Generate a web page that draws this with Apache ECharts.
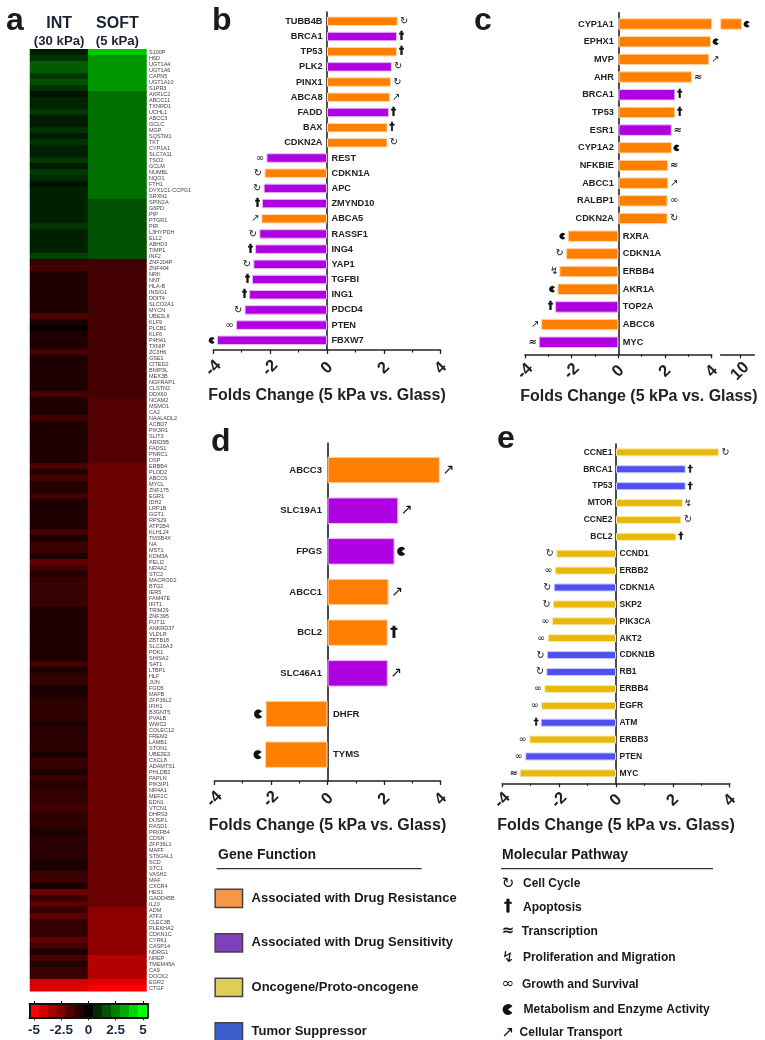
<!DOCTYPE html>
<html><head><meta charset="utf-8"><style>html,body{margin:0;padding:0;background:#fff}#c{width:765px;height:1040px}</style>
<script src="https://cdn.jsdelivr.net/npm/echarts@6/dist/echarts.min.js"></script></head><body><div id="c"></div>
<script>
const heatGenes=["S100P","H6D","UGT1A4","UGT1A6","CAPN5","UGT1A10","S1PR3","AKR1C2","ABCC11","TXNRD1",
"UCHL1","ABCC3","GCLC","MGP","SQSTM1","TKT","CYP1A1","SLC7A11","TSO2","GCLM",
"NUMBL","NQO1","FTH1","DYX1C1-CCPG1","SRXN1","SPIN2A","G6PD","PIP","PTGR1","PIR",
"L3HYPDH","ELL2","ABHD3","TIMP1","INF2","ZNF204P","ZNF404","NRK","NNT","HLA-B",
"INSIG1","DDIT4","SLCO2A1","MYCN","UBE2L6","KLF9","PLCB1","KLF6","P4HA1","TXNIP",
"ZC3H6","GSE1","CITED2","BNIP3L","MEX3B","NGFRAP1","CLSTN2","DDX60","NCAM2","MSMO1",
"CA2","NAALADL2","ACBD7","PIK3R1","SLIT3","ARID5B","FADS1","PNRC1","DSP","ERBB4",
"PLOD2","ABCC6","MYCL","ZNF175","EGR1","IDH2","LRP1B","GGT1","RPS29","ATP2B4",
"KLHL24","TMSB4X","NA","MST1","KDM3A","PELI2","NR4A2","STC2","MACROD2","BTG2",
"IER5","FAM47E","IFIT1","TRIM29","ZNF395","FUT11","ANKRD37","VLDLR","ZBTB18","SLC16A3",
"PDK1","SHISA2","SAT1","LTBP1","HLF","JUN","FGD5","MAFB","ZFP36L2","IFIH1",
"B3GNT5","PVALB","WWC2","COLEC12","FREM2","LAMB1","STON1","UBE2E3","CXCL8","ADAMTS1",
"PHLDB2","PAPLN","PIK3IP1","NR4A1","MEF2C","EDN1","VTCN1","DHRS3","DUSP1","RASD1",
"PFKFB4","CDSN","ZFP36L1","MAFF","ST6GAL1","SCD","STC1","VASH2","MAF","CXCR4",
"HES1","GADD45B","IL20","ADM","ATF3","CLEC3B","PLEKHA2","CDKN1C","CYR61","CASP14",
"NDRG1","NREP","TMEM45A","CA9","DOCK2","EGR2","CTGF"];
const heatInt=[.6,1,1.8,1.8,1.1,1.6,1,.4,.7,.7,
1.1,.55,.55,1,.5,1,.6,.6,1.1,.5,
1.1,.8,.4,.65,.65,.65,.65,.65,.65,1.1,
.65,.65,.65,.65,1.3,-1,-1.4,-.6,-.6,-.6,
-.6,-.6,-.6,-.6,-1.5,-.6,-.1,-.6,-.6,-.6,
-1.4,-.6,-.6,-.6,-.6,-.6,-.6,-1.4,-.6,-.6,
-.6,-1.3,-.6,-.6,-.6,-.6,-.6,-.6,-.6,-1.5,
-.7,-1.4,-.7,-.7,-1.3,-.6,-.6,-.6,-.6,-.6,
-1.4,-.5,-1.1,-1.1,-.5,-1.9,-1.3,-.7,-1.1,-1.1,
-1.1,-1.1,-1.1,-.6,-.6,-.6,-.6,-.6,-.6,-.6,
-.6,-.6,-1.3,-.6,-1,-1,-.5,-.5,-.9,-.9,
-.9,-.9,-.5,-.85,-.85,-.85,-.85,-.5,-1,-1,
-.5,-1.1,-.7,-1,-1,-1,-1.3,-.9,-.9,-.9,
-.5,-.85,-.85,-.85,-.85,-.5,-.5,-1.1,-1.1,-.5,
-2.1,-1.1,-1.8,-1.1,-1.8,-1,-1,-1,-1.8,-1.3,
-.5,-1.4,-.6,-1.1,-1.1,-4.2,-4.4];
const heatSoft=[3.9,2.95,2.95,2.95,2.95,2.95,2.95,2.2,2.2,2.2,
2.2,2.2,2.2,2.2,2.2,2.2,2.2,2.2,2.2,2.2,
2.2,2.2,2.2,2.2,2.2,1.6,1.6,1.6,1.6,1.6,
1.6,1.6,1.6,1.6,1.6,-1.3,-1.3,-1.3,-1.3,-1.3,
-1.3,-1.3,-1.3,-1.3,-1.3,-1.3,-1.3,-1.3,-1.3,-1.3,
-1.3,-1.3,-1.3,-1.3,-1.3,-1.3,-1.3,-1.3,-1.6,-1.6,
-1.6,-1.6,-1.6,-1.6,-1.6,-1.6,-1.6,-1.6,-1.6,-2.1,
-2.1,-2.1,-2.1,-2.1,-2.1,-2.1,-2.1,-2.1,-2.1,-2.1,
-2.1,-2.1,-2.1,-2.1,-2.1,-2.1,-2.1,-2.1,-2.1,-2.1,
-2.1,-2.1,-2.1,-2.1,-2.1,-2.1,-2.1,-2.1,-2.1,-2.1,
-2.1,-2.1,-2.1,-2.1,-2.1,-2.1,-2.1,-2.1,-2.1,-2.1,
-2.1,-2.1,-2.1,-2.1,-2.1,-2.1,-2.1,-2.1,-2.1,-2.1,
-2.1,-2.1,-2.1,-2.1,-2.1,-2.1,-2.1,-2.1,-2.1,-2.1,
-2.1,-2.1,-2.1,-2.1,-2.1,-2.1,-2.1,-2.1,-2.1,-2.1,
-2.1,-2.1,-2.1,-2.75,-2.75,-2.75,-2.75,-2.75,-2.75,-2.75,
-2.75,-3.55,-3.55,-3.55,-3.55,-4.4,-5];
const scaleCells=["-5","-4.2","-3.3","-2.5","-1.7","-0.8","0","0.8","1.7","2.5","3.3","4.2","5"];
const scaleValues=[-5,-4.17,-3.33,-2.5,-1.67,-.83,0,.83,1.67,2.5,3.33,4.17,5];
const heatColumns=["INT","SOFT"];
const heatColumnSub=["(30 kPa)","(5 kPa)"];

const funcNames={O:"Associated with Drug Resistance",P:"Associated with Drug Sensitivity",Y:"Oncogene/Proto-oncogene",B:"Tumor Suppressor"};
// pathway codes: C cell cycle, A apoptosis, T transcription, L proliferation, G growth, M metabolism, R transport
const bGenes=["TUBB4B","BRCA1","TP53","PLK2","PINX1","ABCA8","FADD","BAX","CDKN2A","REST","CDKN1A","APC","ZMYND10","ABCA5","RASSF1","ING4","YAP1","TGFBI","ING1","PDCD4","PTEN","FBXW7"];
const bValues=[2.49,2.46,2.46,2.28,2.25,2.22,2.18,2.13,2.13,-2.13,-2.2,-2.23,-2.29,-2.31,-2.38,-2.53,-2.59,-2.64,-2.74,-2.9,-3.2,-3.87];
const bFuncs="OPOPOOPOOPOPPOPPPPPPPP".split("");
const bPaths="CAACCRAACGCCARCACAACGM".split("");
const cGenes=["CYP1A1","EPHX1","MVP","AHR","BRCA1","TP53","ESR1","CYP1A2","NFKBIE","ABCC1","RALBP1","CDKN2A","RXRA","CDKN1A","ERBB4","AKR1A","TOP2A","ABCC6","MYC"];
const cValues=[10.1,3.97,3.9,3.16,2.44,2.44,2.29,2.29,2.14,2.14,2.11,2.11,-2.17,-2.24,-2.53,-2.61,-2.71,-3.31,-3.41];
const cFuncs="OOOOPOPOOOOOOOOOPOP".split("");
const cPaths="MMRTAATMTRGCMCLMART".split("");
const dGenes=["ABCC3","SLC19A1","FPGS","ABCC1","BCL2","SLC46A1","DHFR","TYMS"];
const dValues=[3.97,2.5,2.37,2.16,2.13,2.13,-2.19,-2.21];
const dFuncs="OPPOOPOO".split("");
const dPaths="RRMRARMM".split("");
const eGenes=["CCNE1","BRCA1","TP53","MTOR","CCNE2","BCL2","CCND1","ERBB2","CDKN1A","SKP2","PIK3CA","AKT2","CDKN1B","RB1","ERBB4","EGFR","ATM","ERBB3","PTEN","MYC"];
const eValues=[3.62,2.45,2.45,2.36,2.3,2.12,-2.1,-2.15,-2.19,-2.22,-2.25,-2.4,-2.43,-2.45,-2.52,-2.63,-2.65,-3.05,-3.19,-3.39];
const eFuncs="YBBYYYYYBYYYBBYYBYBY".split("");
const ePaths="CAALCACGCCGGCCGGAGGT".split("");
const pathLegendNames=["Cell Cycle","Apoptosis","Transcription","Proliferation and Migration","Growth and Survival","Metabolism and Enzyme Activity","Cellular Transport"];
const pathLegendCodes=["C","A","T","L","G","M","R"];
const xTitle="Folds Change (5 kPa vs. Glass)";

const FONT='"Liberation Sans", Arial, sans-serif';
const barColors={O:"#FF8000",P:"#AE00E0",Y:"#E8B90B",B:"#5050F0"};
const barBorders={O:"#FFD9B0",P:"#E6B8F5",Y:"#F8E8A8",B:"#C8C8FF"};
const legendColors={O:"#F79646",P:"#7F3FBF",Y:"#DDCF55",B:"#3A5FCD"};
const glyphs={C:"\u21BB",A:"\u2020",T:"\u2248",L:"\u21AF",G:"\u221E",R:"\u2197"};
const iconGap={C:6.5,A:4.5,T:6,L:5,G:6.5,M:5,R:6};

function icon(code,cx,cy,size){
  if(code==="M") return {type:"sector",shape:{cx:cx,cy:cy,r:size*.32,r0:0,startAngle:Math.PI*.2,endAngle:Math.PI*1.8},style:{fill:"#111"}};
  const st={x:cx,y:cy,text:glyphs[code],fill:"#111",fontFamily:'"DejaVu Sans"',fontWeight:(code==="A"||code==="T")?"bold":"normal",fontSize:size,align:"center",verticalAlign:"middle"};
  if(code==="A"){st.stroke="#111";st.lineWidth=.5;}
  return {type:"text",style:st};
}

const panels=[
 {genes:bGenes,values:bValues,funcs:bFuncs,paths:bPaths,left:213.3,width:227.4,axisTop:12,axisBottom:350,barTop:13.7,barBottom:347.9,barW:9.5,font:9.2,gapL:4.5,icon:10,iconK:1,nameGap:38,labelMargin:18},
 {genes:cGenes,values:cValues,funcs:cFuncs,paths:cPaths,left:525,width:186.7,axisTop:12.7,axisBottom:354.3,barTop:15.2,barBottom:351.1,barW:11.5,font:9.2,gapL:4.5,icon:10,iconK:1,nameGap:34.5,labelMargin:17,nameShift:41,seg:{left:720.7,width:33.6,min:9,max:10.74,tick:10}},
 {genes:dGenes,values:dValues,funcs:dFuncs,paths:dPaths,left:214.3,width:226.4,axisTop:443,axisBottom:781,barTop:449.7,barBottom:775,barW:26.5,font:9.5,gapL:5.5,icon:14,iconK:1.4,nameGap:36.5,labelMargin:18},
 {genes:eGenes,values:eValues,funcs:eFuncs,paths:ePaths,left:502.3,width:227.4,axisTop:444,axisBottom:783.3,barTop:443.9,barBottom:781.8,barW:8,font:8.5,gapL:3.5,icon:9.5,iconK:1,nameGap:34.5,labelMargin:17}
];

const grids=[],xAxes=[],yAxes=[],series=[];
const baseAxisX={type:"value",position:"bottom",
  axisLine:{show:true,onZero:false,lineStyle:{color:"#222",width:1.5}},
  axisTick:{show:true,length:4,lineStyle:{color:"#222",width:1.3}},
  minorTick:{show:false},splitLine:{show:false}};
function addGrid(g,x,y){grids.push(g);const i=grids.length-1;xAxes.push(Object.assign({gridIndex:i},x));yAxes.push(Object.assign({gridIndex:i},y));return i;}

// heat map
const hg=addGrid({left:30,top:49.33,width:116.5,height:942},
 {type:"category",position:"top",data:heatColumns,axisLine:{show:false},axisTick:{show:false},
  axisLabel:{margin:-0.5,interval:0,color:"#1a2233",
   formatter:(v,i)=>"{a|"+v+"}\n{b|"+heatColumnSub[i]+"}",
   rich:{a:{fontFamily:FONT,fontWeight:"bold",fontSize:16,lineHeight:18,color:"#1a2233"},b:{fontFamily:FONT,fontWeight:"bold",fontSize:13.2,lineHeight:17,color:"#1a2233"}}}},
 {type:"category",inverse:true,position:"right",data:heatGenes,axisLine:{show:false},axisTick:{show:false},
  axisLabel:{interval:0,margin:2.5,fontSize:5.5,fontFamily:FONT,color:"#444"}});
const heatData=[];heatGenes.forEach((g,i)=>{heatData.push([0,i,heatInt[i]]);heatData.push([1,i,heatSoft[i]]);});
series.push({type:"heatmap",xAxisIndex:hg,yAxisIndex:hg,data:heatData,progressive:0,silent:true});
// colour scale
const sg=addGrid({left:29.5,top:1004,width:118,height:13.3},
 {type:"category",data:scaleCells,position:"bottom",
  axisLine:{show:true,lineStyle:{color:"#111",width:2}},
  axisTick:{show:true,alignWithLabel:true,length:3,interval:i=>i%3===0,lineStyle:{color:"#111"}},
  axisLabel:{interval:i=>i%3===0,margin:6,fontFamily:FONT,fontWeight:"bold",fontSize:13.5,color:"#1a2a44"},z:5},
 {type:"category",data:[""],show:true,axisLine:{show:true,lineStyle:{color:"#111",width:2}},axisTick:{show:false},axisLabel:{show:false},z:5});
series.push({type:"heatmap",xAxisIndex:sg,yAxisIndex:sg,data:scaleValues.map((v,i)=>[i,0,v]),silent:true,progressive:0});

// bar panels
panels.forEach(p=>{
  // axes grid
  addGrid({left:p.left,top:p.axisTop,width:p.width,height:p.axisBottom-p.axisTop},
   Object.assign({},baseAxisX,{min:-4,max:4,interval:2,minorTick:{show:true,splitNumber:2,length:2.5,lineStyle:{color:"#222",width:1.2}},
     axisLabel:{rotate:45,align:"center",verticalAlign:"middle",margin:p.labelMargin,fontFamily:FONT,fontWeight:"bold",fontSize:16.5,color:"#222"},
     name:xTitle,nameLocation:"middle",nameGap:p.nameGap,
     nameTextStyle:{fontFamily:FONT,fontWeight:"bold",fontSize:16,color:"#222",padding:p.nameShift?[0,0,0,p.nameShift]:0}}),
   {type:"value",min:0,max:1,axisLine:{show:true,onZero:true,lineStyle:{color:"#222",width:1.6}},axisTick:{show:false},axisLabel:{show:false},splitLine:{show:false}});
  // bars grid
  const g=addGrid({left:p.left,top:p.barTop,width:p.width,height:p.barBottom-p.barTop},
   {type:"value",min:-4,max:4,show:false,splitLine:{show:false}},
   {type:"category",inverse:true,data:p.genes,show:false});
  const maxV=4;
  Object.keys(funcNames).forEach(f=>{
    if(!p.funcs.includes(f)) return;
    series.push({type:"bar",name:funcNames[f],xAxisIndex:g,yAxisIndex:g,barWidth:p.barW,barGap:"-100%",silent:true,
      itemStyle:{color:barColors[f],borderColor:barBorders[f],borderWidth:1},
      data:p.values.map((v,i)=>p.funcs[i]===f?v:null)});
  });
  series.push({type:"custom",xAxisIndex:g,yAxisIndex:g,silent:true,
    data:p.values.map((v,i)=>[v,i]),encode:{x:0,y:1},
    renderItem(params,api){
      const i=api.value(1),v=api.value(0);
      const o=api.coord([0,i]);
      const pos=v>0;
      const kids=[{type:"text",style:{x:o[0]+(pos?-p.gapL:p.gapL),y:o[1],text:p.genes[i],fill:"#222",fontFamily:FONT,fontWeight:"bold",fontSize:p.font,align:pos?"right":"left",verticalAlign:"middle"}}];
      if(Math.abs(v)<=maxV){
        const e=api.coord([v,i]);const c=p.paths[i];
        kids.push(icon(c,e[0]+(pos?1:-1)*iconGap[c]*p.iconK,e[1],p.icon));
      }
      return {type:"group",children:kids};
    }});
  if(p.seg){
    const s=p.seg;
    addGrid({left:s.left,top:p.axisTop,width:s.width,height:p.axisBottom-p.axisTop},
      Object.assign({},baseAxisX,{min:s.min,max:s.max,axisTick:{show:true,length:4,customValues:[s.tick],lineStyle:{color:"#222",width:1.3}},
        axisLabel:{rotate:45,align:"center",verticalAlign:"middle",margin:p.labelMargin,customValues:[s.tick],fontFamily:FONT,fontWeight:"bold",fontSize:16.5,color:"#222"}}),
      {type:"value",min:0,max:1,show:false,splitLine:{show:false}});
    const g2=addGrid({left:s.left,top:p.barTop,width:s.width,height:p.barBottom-p.barTop},
      {type:"value",min:s.min,max:s.max,show:false,splitLine:{show:false}},
      {type:"category",inverse:true,data:p.genes,show:false});
    series.push({type:"bar",xAxisIndex:g2,yAxisIndex:g2,barWidth:p.barW,silent:true,
      itemStyle:{color:barColors.O,borderColor:barBorders.O,borderWidth:1},
      data:p.values.map(v=>v>maxV?v:null)});
    series.push({type:"custom",xAxisIndex:g2,yAxisIndex:g2,silent:true,
      data:p.values.map((v,i)=>[v,i]).filter(d=>d[0]>maxV),encode:{x:0,y:1},
      renderItem(params,api){
        const i=api.value(1),e=api.coord([api.value(0),i]),c=p.paths[i];
        return icon(c,e[0]+iconGap[c],e[1],p.icon);
      }});
  }
});
// extra frame sides of the colour scale go after the panels so that axis indices stay equal to grid indices
xAxes.push({gridIndex:sg,type:"category",data:scaleCells,position:"top",axisLine:{show:true,lineStyle:{color:"#111",width:2}},
 axisTick:{show:true,alignWithLabel:true,length:3,interval:i=>i%3===0,lineStyle:{color:"#111"}},axisLabel:{show:false},z:5});
yAxes.push({gridIndex:sg,type:"category",data:[""],position:"right",axisLine:{show:true,onZero:false,lineStyle:{color:"#111",width:2}},axisTick:{show:false},axisLabel:{show:false},z:5});

// static decoration: panel letters, pathway key
function txt(text,x,y,size,weight,align){return {type:"text",silent:true,style:{x:x,y:y,text:text,fill:"#1a1a1a",fontFamily:FONT,fontSize:size,fontWeight:weight||"normal",align:align||"left",verticalAlign:"middle"}};}
function rule(x1,x2,y){return {type:"line",silent:true,shape:{x1:x1,y1:y,x2:x2,y2:y},style:{stroke:"#333",lineWidth:1.2}};}
const graphic=[
 txt("a",6,21,32,"bold"),txt("b",212,21,32,"bold"),txt("c",474,21,32,"bold"),txt("d",211,442,32,"bold"),txt("e",497,439,32,"bold"),
 txt("Gene Function",218,855.6,14,"bold"),rule(216.6,421.6,868.6),
 txt("Molecular Pathway",502,855.6,14,"bold"),rule(501,713,868.6)];
const keyY=[883.7,907.5,931.6,958,984.2,1009.5,1032.9];
const keyX=[523,523,521.8,522.9,522,523.6,519.6];
pathLegendNames.forEach((n,i)=>{
  const c=pathLegendCodes[i];
  graphic.push(txt(n,keyX[i],keyY[i],12,"bold"));
  graphic.push(Object.assign(icon(c,508,keyY[i],c==="M"?17:15),{silent:true}));
});

const option={animation:false,backgroundColor:"#fff",textStyle:{fontFamily:FONT},
 grid:grids,xAxis:xAxes,yAxis:yAxes,series:series,graphic:graphic,
 visualMap:{show:false,min:-5,max:5,dimension:2,seriesIndex:[0,1],inRange:{color:["#ff0000","#000000","#00ff00"]}},
 legend:{orient:"vertical",left:214.4,top:888.4,height:200,padding:0,itemWidth:27.4,itemHeight:18.4,itemGap:24.6,selectedMode:false,
  textStyle:{fontFamily:FONT,fontWeight:"bold",fontSize:13,color:"#1a1a1a",padding:[0,0,0,4]},
  data:["O","P","Y","B"].map(k=>({name:funcNames[k],icon:"rect",itemStyle:{color:legendColors[k],borderColor:"#444",borderWidth:1.5}}))}
};
echarts.init(document.getElementById("c"),null,{renderer:"canvas"}).setOption(option);
</script></body></html>
